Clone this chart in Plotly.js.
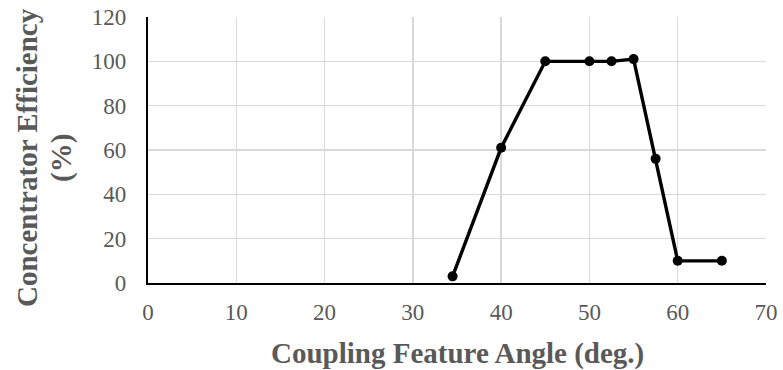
<!DOCTYPE html>
<html>
<head>
<meta charset="utf-8">
<script src="https://cdn.plot.ly/plotly-3.0.1.min.js"></script>
<style>html,body{margin:0;padding:0;background:#fff;}#chart{width:783px;height:370px;}</style>
</head>
<body>
<div id="chart"></div>
<script>
const angles = [34.5, 40, 45, 50, 52.5, 55, 57.5, 60, 65];
const efficiency = [3, 61, 100, 100, 100, 101, 56, 10, 10];
const xTicks = [0, 10, 20, 30, 40, 50, 60, 70];
const yTicks = [0, 20, 40, 60, 80, 100, 120];
const xTitle = 'Coupling Feature Angle (deg.)';
const yTitleLines = ['Concentrator Efficiency', '(%)'];

const font = 'Liberation Serif, Times New Roman, serif';
const titleFont = {family: font, size: 29, color: '#595959', weight: 'bold'};
const trace = {
  x: angles, y: efficiency, type: 'scatter', mode: 'lines+markers',
  line: {color: '#000', width: 3.4},
  marker: {color: '#000', size: 10},
  cliponaxis: false
};
const layout = {
  width: 783, height: 370,
  margin: {l: 148, r: 17, t: 17, b: 87},
  paper_bgcolor: '#fff', plot_bgcolor: '#fff',
  showlegend: false,
  font: {family: font, color: '#595959'},
  xaxis: {
    range: [0, 70], tickvals: xTicks, ticktext: xTicks.map(String),
    showgrid: true, gridcolor: '#d9d9d9', gridwidth: 1.3,
    showline: true, linecolor: '#000', linewidth: 2.2,
    zeroline: false, ticks: '', ticklabelstandoff: 7,
    tickfont: {family: font, size: 23, color: '#595959'},
    fixedrange: true
  },
  yaxis: {
    range: [0, 120], tickvals: yTicks, ticktext: yTicks.map(String),
    showgrid: true, gridcolor: '#d9d9d9', gridwidth: 1.3,
    showline: true, linecolor: '#000', linewidth: 2.2,
    zeroline: false, ticks: '', ticklabelstandoff: 15,
    tickfont: {family: font, size: 23, color: '#595959'},
    fixedrange: true
  },
  annotations: [
    {text: xTitle, xref: 'paper', yref: 'paper', x: 0.5, y: 0, yshift: -70,
     xanchor: 'center', yanchor: 'middle', showarrow: false, font: titleFont},
    {text: yTitleLines[0], xref: 'paper', yref: 'paper', x: 0, xshift: -121, y: 0.5, yshift: -8,
     xanchor: 'center', yanchor: 'middle', textangle: -90, showarrow: false, font: titleFont},
    {text: yTitleLines[1], xref: 'paper', yref: 'paper', x: 0, xshift: -87, y: 0.5, yshift: -8,
     xanchor: 'center', yanchor: 'middle', textangle: -90, showarrow: false, font: titleFont}
  ]
};
Plotly.newPlot('chart', [trace], layout, {displayModeBar: false, staticPlot: true});
</script>
</body>
</html>
